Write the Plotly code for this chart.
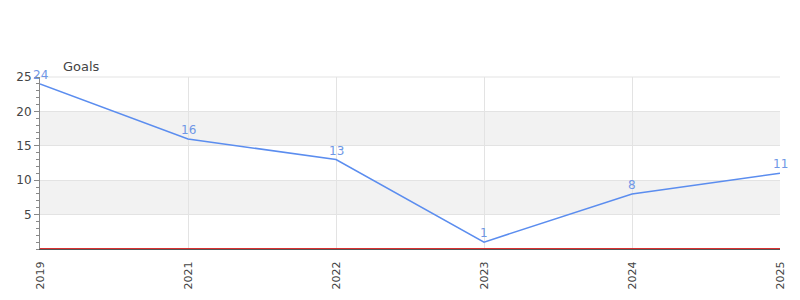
import plotly.graph_objects as go

years = ["2019", "2021", "2022", "2023", "2024", "2025"]
goals = [24, 16, 13, 1, 8, 11]
band_ranges = [(5, 10), (15, 20)]

line_color = "#5b8def"
label_color = "#6f97e6"
font_family = "DejaVu Sans"

fig = go.Figure()
fig.add_trace(go.Scatter(
    x=years, y=goals, mode="lines",
    line=dict(color=line_color, width=1.5),
    cliponaxis=False, hoverinfo="x+y",
))

for lo, hi in band_ranges:
    fig.add_shape(type="rect", xref="paper", yref="y", x0=0, x1=1, y0=lo, y1=hi,
                  fillcolor="#f2f2f2", line_width=0, layer="below")

annotations = [dict(text="Goals", xref="paper", yref="paper", x=0.029, y=1.0,
                    xanchor="left", yanchor="bottom", yshift=1, showarrow=False,
                    font=dict(size=13, color="#444", family=font_family))]
for i, v in enumerate(goals):
    annotations.append(dict(x=i, y=v, xref="x", yref="y", text=str(v), showarrow=False,
                            xanchor="center", yanchor="bottom", yshift=0,
                            font=dict(size=12, color=label_color, family=font_family)))

fig.update_layout(
    width=800, height=300,
    margin=dict(l=40, r=20, t=77, b=51),
    paper_bgcolor="white", plot_bgcolor="white",
    showlegend=False,
    font=dict(family=font_family, size=11, color="#444"),
    annotations=annotations,
)
fig.update_xaxes(
    type="category", range=[0, len(years) - 1],
    showgrid=True, gridcolor="#e3e3e3", gridwidth=1,
    showline=True, linecolor="#555", linewidth=1,
    ticks="", tickangle=-90, tickfont=dict(size=11, color="#444"),
    ticklabelstandoff=7,
    mirror=False, zeroline=False,
)
fig.update_yaxes(
    range=[0, 25], dtick=5, tick0=0,
    showgrid=True, gridcolor="#e3e3e3", gridwidth=1,
    showline=True, linecolor="#888", linewidth=1,
    ticks="outside", ticklen=5, tickcolor="#888",
    minor=dict(dtick=1, ticks="outside", ticklen=3, tickcolor="#888", showgrid=False),
    zeroline=False,
    tickvals=[5, 10, 15, 20, 25],
    tickfont=dict(size=12, color="#444"),
)
fig.add_shape(type="line", xref="paper", yref="paper", x0=0, x1=1, y0=1, y1=1,
              line=dict(color="#e3e3e3", width=1), layer="below")
fig.add_shape(type="line", xref="paper", yref="y", x0=0, x1=1, y0=0.06, y1=0.06,
              line=dict(color="#d62020", width=1), layer="above")

fig.write_html("out.html")
